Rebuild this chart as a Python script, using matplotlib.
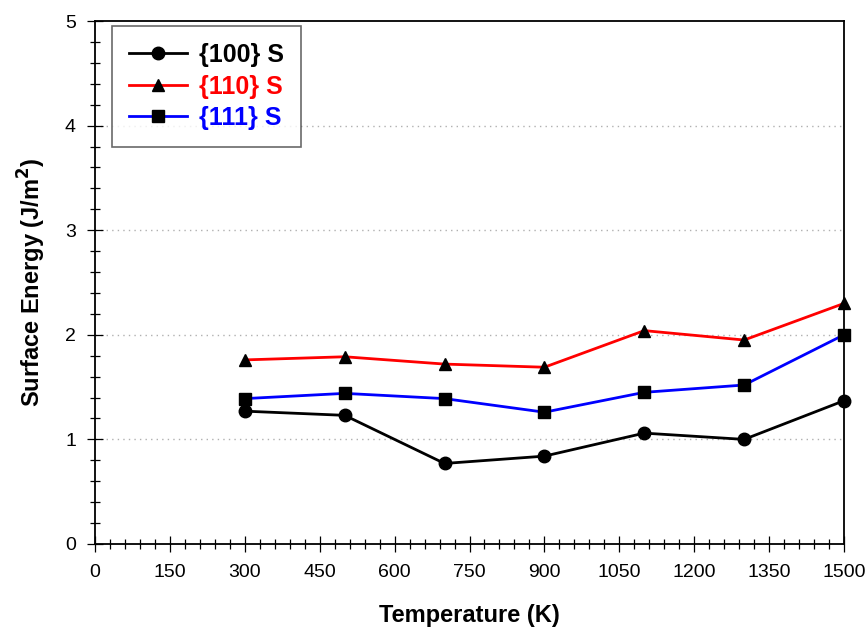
import matplotlib
matplotlib.use("Agg")
from matplotlib import pyplot as plt
from matplotlib.ticker import MultipleLocator

plt.rcParams["font.family"] = ["Liberation Sans", "DejaVu Sans"]

temperature = [300, 500, 700, 900, 1100, 1300, 1500]
s100 = [1.27, 1.23, 0.77, 0.84, 1.06, 1.00, 1.37]
s110 = [1.76, 1.79, 1.72, 1.69, 2.04, 1.95, 2.30]
s111 = [1.39, 1.44, 1.39, 1.26, 1.45, 1.52, 2.00]
labels = ["{100} S", "{110} S", "{111} S"]

fig = plt.figure(figsize=(8.68, 6.30), dpi=100)
ax = fig.add_axes([95 / 868, 1 - 544 / 630, (844 - 95) / 868, (544 - 21) / 630])

ax.plot(temperature, s100, color="black", lw=2, marker="o", ms=9,
        mfc="black", mec="black", label=labels[0], clip_on=False, zorder=3)
ax.plot(temperature, s110, color="red", lw=2, marker="^", ms=9,
        mfc="black", mec="black", label=labels[1], clip_on=False, zorder=3)
ax.plot(temperature, s111, color="blue", lw=2, marker="s", ms=8,
        mfc="black", mec="black", label=labels[2], clip_on=False, zorder=3)

ax.set_xlim(0, 1500)
ax.set_ylim(0, 5)
ax.xaxis.set_major_locator(MultipleLocator(150))
ax.xaxis.set_minor_locator(MultipleLocator(30))
ax.yaxis.set_major_locator(MultipleLocator(1))
ax.yaxis.set_minor_locator(MultipleLocator(0.2))
ax.tick_params(which="major", direction="inout", length=11.5, width=0.9,
               labelsize=14, pad=9)
ax.tick_params(which="minor", direction="inout", length=7, width=0.9)
ax.tick_params(axis="y", pad=8)

for y in [1, 2, 3, 4]:
    ax.axhline(y, color="#b0b0b0", lw=1, ls=(0, (1, 3)), zorder=1)

for s in ax.spines.values():
    s.set_linewidth(1.3)

ax.set_xlabel("Temperature (K)", fontsize=17, fontweight="bold", labelpad=16)
ax.set_ylabel("Surface Energy (J/m$^\\mathbf{2}$)", fontsize=17,
              fontweight="bold", labelpad=12)

leg = ax.legend(loc="upper left", bbox_to_anchor=(0.0227, 0.99),
                prop={"weight": "bold", "size": 18}, frameon=True,
                fancybox=False, edgecolor="#444444", handlelength=2.3,
                borderpad=0.68, labelspacing=0.3, handletextpad=0.5,
                borderaxespad=0)
leg.get_frame().set_linewidth(1.2)
for txt, c in zip(leg.get_texts(), ["black", "red", "blue"]):
    txt.set_color(c)

fig.savefig("out.png", dpi=100)
